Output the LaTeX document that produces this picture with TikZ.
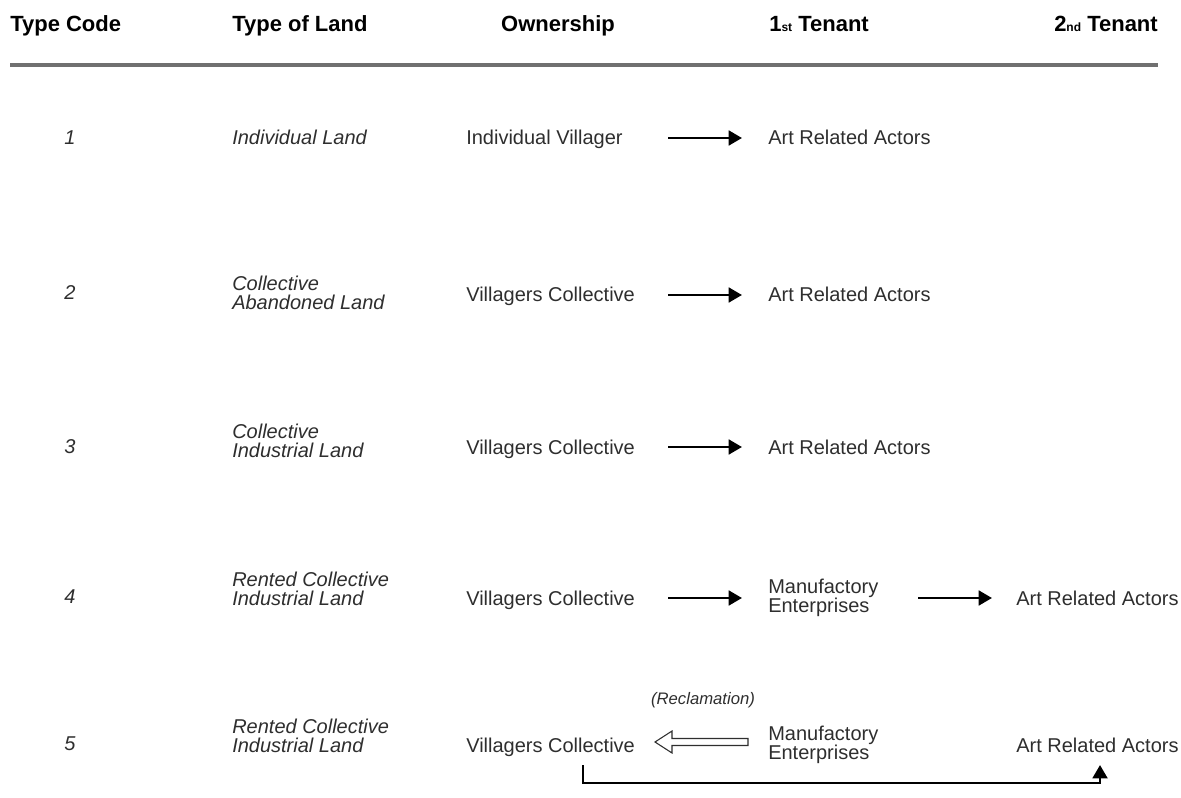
\documentclass[tikz,border=0pt]{standalone}
\usepackage{fontspec}
\setmainfont{Liberation Sans}
\usetikzlibrary{arrows.meta, calc}

\definecolor{ink}{HTML}{2E2E2E}
\definecolor{rulegray}{HTML}{707070}

\tikzset{
	head/.style={font=\fontsize{16.5}{18}\selectfont\bfseries, text=black, inner sep=0pt},
	cell/.style={font=\fontsize{15}{14.5}\selectfont, text=ink, anchor=west, align=left, inner sep=0pt},
	one/.style={cell, anchor=base west},
	land/.style={cell, font=\fontsize{15}{14.5}\selectfont\itshape},
	code/.style={font=\fontsize{15}{17}\selectfont\itshape, text=ink, inner sep=0pt, anchor=base},
	lease/.style={-{Triangle[length=10pt, width=11pt]}, line width=2.1pt, black},
}

\newcommand{\ordsub}[1]{{\fontsize{9}{9}\selectfont #1}}

\begin{document}
\begin{tikzpicture}[x=0.75pt, y=-0.75pt]
	\def \codex {70}
	\def \landx {232}
	\def \ownx  {466}
	\def \firstx {768}
	\def \secondx {1016}

	\useasboundingbox (0,0) rectangle (1181,798);

	% header
	\node[head, anchor=base west] (hcode)   at (10,32)   {Type Code};
	\node[head, anchor=base west] (hland)   at (232,32)  {Type of Land};
	\node[head, anchor=base]      (hown)    at (558,32)  {Ownership};
	\node[head, anchor=base west] (hfirst)  at (769,32)  {1\ordsub{st} Tenant};
	\node[head, anchor=base east] (hsecond) at (1158,32) {2\ordsub{nd} Tenant};

	\draw[rulegray, line width=3pt] (10,65) -- (1158,65);

	% type 1
	\node[code] (c1) at (\codex,145) {1};
	\node[land, anchor=base west] (l1) at (\landx,145) {Individual Land};
	\node[one] (o1) at (\ownx,145) {Individual Villager};
	\node[one] (f1) at (\firstx,145) {Art Related Actors};
	\draw[lease] ($(f1.base west)+(-100,-7)$) -- ($(f1.base west)+(-26,-7)$);

	% type 2
	\node[code] (c2) at (\codex,300) {2};
	\node[land] (l2) at (\landx,293) {Collective\\Abandoned Land};
	\node[one] (o2) at (\ownx,302) {Villagers Collective};
	\node[one] (f2) at (\firstx,302) {Art Related Actors};
	\draw[lease] ($(f2.base west)+(-100,-7)$) -- ($(f2.base west)+(-26,-7)$);

	% type 3
	\node[code] (c3) at (\codex,453) {3};
	\node[land] (l3) at (\landx,441) {Collective\\Industrial Land};
	\node[one] (o3) at (\ownx,454) {Villagers Collective};
	\node[one] (f3) at (\firstx,454) {Art Related Actors};
	\draw[lease] ($(f3.base west)+(-100,-7)$) -- ($(f3.base west)+(-26,-7)$);

	% type 4
	\node[code] (c4) at (\codex,603) {4};
	\node[land] (l4) at (\landx,589) {Rented Collective\\Industrial Land};
	\node[one] (o4) at (\ownx,605) {Villagers Collective};
	\node[cell] (f4) at (\firstx,598) {Manufactory\\Enterprises};
	\node[one] (s4) at (\secondx,605) {Art Related Actors};
	\draw[lease] ($(f4.west)+(-100,0)$) -- ($(f4.west)+(-26,0)$);
	\draw[lease] ($(s4.base west)+(-98,-7)$) -- ($(s4.base west)+(-24,-7)$);

	% type 5
	\node[code] (c5) at (\codex,750) {5};
	\node[land] (l5) at (\landx,736) {Rented Collective\\Industrial Land};
	\node[one] (o5) at (\ownx,752) {Villagers Collective};
	\node[cell] (f5) at (\firstx,745) {Manufactory\\Enterprises};
	\node[one] (s5) at (\secondx,752) {Art Related Actors};
	\node[code, font=\fontsize{12.5}{14}\selectfont\itshape] (rec) at (703,704) {(Reclamation)};

	\coordinate (tip) at ($(f5.west)+(-113,-3)$);
	\draw[ink, line width=0.8pt, line join=miter, fill=white] (tip)
		-- ++(17,-11) -- ++(0,7.5) -- ++(76,0) -- ++(0,7) -- ++(-76,0)
		-- ++(0,7.5) -- cycle;

	\coordinate (back) at ($(o5.base west)+(117,13)$);
	\draw[lease] (back) -- ++(0,18) -| ($(s5.base west)+(84,13)$);
\end{tikzpicture}
\end{document}
